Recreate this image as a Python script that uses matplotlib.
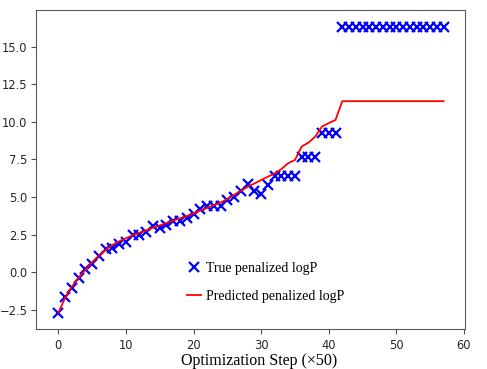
import numpy as np
import matplotlib
matplotlib.use("Agg")
import matplotlib.pyplot as plt

# true penalized logP, one value per optimization step (x50)
true_logp = [-2.72, -1.68, -1.06, -0.39, 0.22, 0.54, 1.09, 1.56, 1.60, 1.89,
             1.98, 2.44, 2.44, 2.67, 3.04, 2.93, 3.15, 3.37, 3.37, 3.60,
             3.85, 4.18, 4.40, 4.37, 4.37, 4.81, 4.97, 5.37, 5.86, 5.37,
             5.19, 5.83, 6.38, 6.38, 6.38, 6.38, 7.65, 7.65, 7.65, 9.25,
             9.25, 9.25] + [16.34] * 16

# predicted penalized logP
pred_logp = [-2.72, -1.72, -0.98, -0.38, 0.15, 0.65, 1.10, 1.48, 1.80, 2.05,
             2.25, 2.45, 2.62, 2.78, 2.95, 3.10, 3.27, 3.43, 3.58, 3.73,
             3.91, 4.09, 4.27, 4.45, 4.63, 4.86, 5.14, 5.41, 5.68, 5.90,
             6.13, 6.35, 6.57, 6.86, 7.25, 7.47, 8.36, 8.62, 9.02, 9.69,
             9.92, 10.13] + [11.38] * 16

steps = np.arange(len(true_logp))

fig = plt.figure(figsize=(4.87, 3.69), dpi=100)
ax = fig.add_axes([0.0739, 0.1076, 0.8816, 0.8653])

ax.plot(steps, true_logp, "x", color="blue", ms=6.5, mew=1.6,
        label="True penalized logP")
ax.plot(steps, pred_logp, "-", color="red", lw=1.3,
        label="Predicted penalized logP")

ax.set_xlim(-3.3, 60.2)
ax.set_ylim(-3.81, 17.45)
ax.set_xticks([0, 10, 20, 30, 40, 50, 60])
ax.set_yticks([-2.5, 0.0, 2.5, 5.0, 7.5, 10.0, 12.5, 15.0])
ax.tick_params(labelsize=8.3, colors="0.3", labelcolor="0.15")
ax.tick_params(axis="y", pad=2.5)
for sp in ax.spines.values():
    sp.set_color("0.35")

ax.set_xlabel("Optimization Step (\u00d750)", family="Liberation Serif",
              fontsize=11.5)
ax.xaxis.set_label_coords(0.52, -0.075)

ax.legend(loc="center left", bbox_to_anchor=(0.352, 0.147), frameon=False,
          borderpad=0, borderaxespad=0, handlelength=1.0, handletextpad=0.35,
          labelspacing=1.05, prop={"family": "Liberation Serif", "size": 10})

fig.savefig("out.png", dpi=100)
